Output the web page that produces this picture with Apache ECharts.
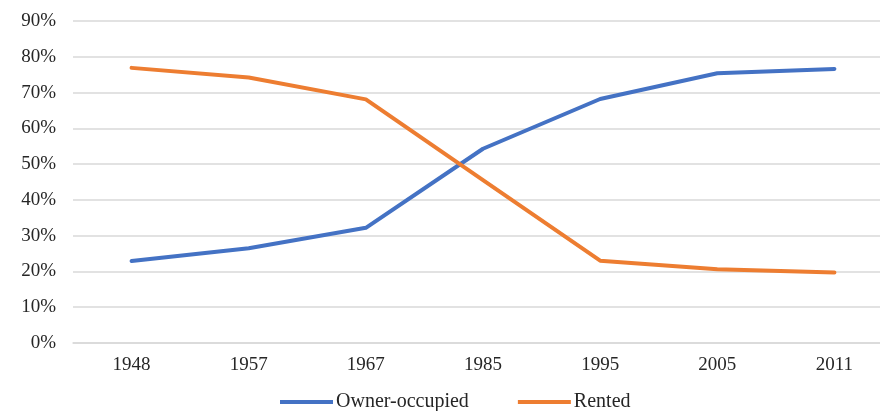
<!DOCTYPE html>
<html>
<head>
<meta charset="utf-8">
<script src="https://cdn.jsdelivr.net/npm/echarts@6/dist/echarts.min.js"></script>
<style>
  html, body { margin: 0; padding: 0; background: #ffffff; overflow: hidden; }
  #chart { width: 900px; height: 411px; }
</style>
</head>
<body>
<div id="chart"></div>
<script>
// Housing tenure shares by census year
const years = ['1948', '1957', '1967', '1985', '1995', '2005', '2011'];
const ownerOccupied = [22.9, 26.5, 32.2, 54.3, 68.2, 75.4, 76.6];
const rented = [76.9, 74.2, 68.1, 45.5, 23.0, 20.6, 19.7];
const yTicks = [0, 10, 20, 30, 40, 50, 60, 70, 80, 90];

const serif = '"Liberation Serif", "Times New Roman", serif';
const textColor = '#262626';

const chart = echarts.init(document.getElementById('chart'), null, { renderer: 'canvas' });

chart.setOption({
  animation: false,
  backgroundColor: '#ffffff',
  // plot area runs a little past the right edge of the visible page
  grid: { left: 73, width: 820, top: 21, bottom: 68, containLabel: false },
  xAxis: {
    type: 'category',
    data: years,
    boundaryGap: true,
    axisLine: { show: true, lineStyle: { color: '#d9d9d9', width: 1.5 } },
    axisTick: { show: false },
    axisLabel: { color: textColor, fontFamily: serif, fontSize: 19, margin: 13 }
  },
  yAxis: {
    type: 'value',
    min: yTicks[0],
    max: yTicks[yTicks.length - 1],
    interval: 10,
    axisLine: { show: false },
    axisTick: { show: false },
    splitLine: { lineStyle: { color: '#d9d9d9', width: 1.5 } },
    axisLabel: {
      color: textColor, fontFamily: serif, fontSize: 19, margin: 17,
      formatter: v => v + '%'
    }
  },
  legend: {
    top: 392,
    left: 280,
    padding: 0,
    icon: 'rect',
    itemWidth: 53,
    itemHeight: 4,
    itemGap: 49,
    textStyle: { color: textColor, fontFamily: serif, fontSize: 20, padding: [0, 0, 0, -2] },
    data: ['Owner-occupied', 'Rented']
  },
  series: [
    {
      name: 'Owner-occupied',
      type: 'line',
      data: ownerOccupied,
      symbol: 'none',
      lineStyle: { color: '#4472c4', width: 4, cap: 'round', join: 'round' },
      itemStyle: { color: '#4472c4' }
    },
    {
      name: 'Rented',
      type: 'line',
      data: rented,
      symbol: 'none',
      lineStyle: { color: '#ed7d31', width: 4, cap: 'round', join: 'round' },
      itemStyle: { color: '#ed7d31' }
    }
  ]
});
</script>
</body>
</html>
